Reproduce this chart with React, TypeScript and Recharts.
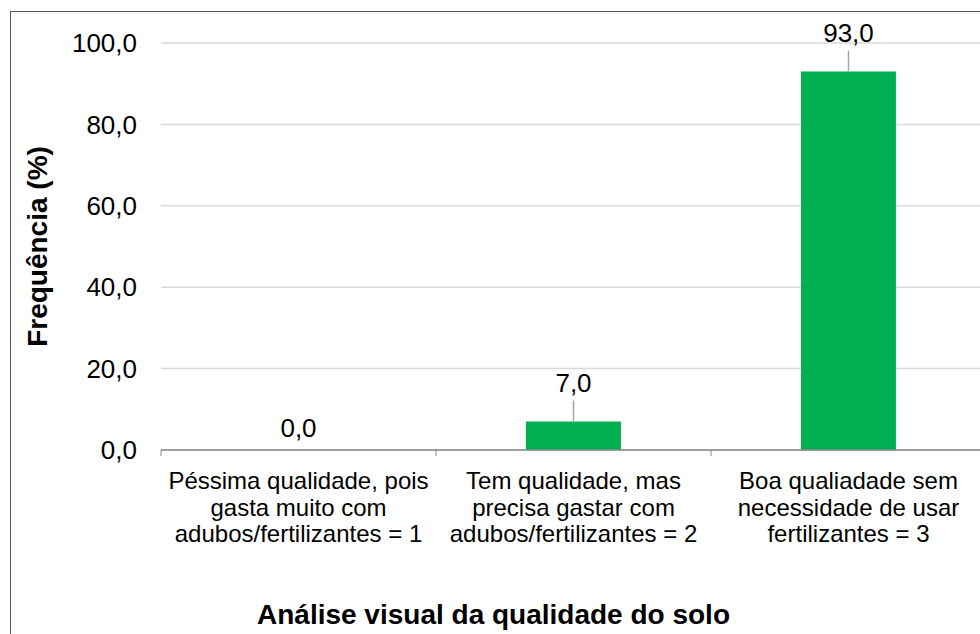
import { BarChart, Bar, XAxis, YAxis, CartesianGrid, ReferenceDot, Label } from "recharts";

const categories = [
  "Péssima qualidade, pois gasta muito com adubos/fertilizantes = 1",
  "Tem qualidade, mas precisa gastar com adubos/fertilizantes = 2",
  "Boa qualiadade sem necessidade de usar fertilizantes = 3",
];
const categoryLines = [
  ["Péssima qualidade, pois", "gasta muito com", "adubos/fertilizantes = 1"],
  ["Tem qualidade, mas", "precisa gastar com", "adubos/fertilizantes = 2"],
  ["Boa qualiadade sem", "necessidade de usar", "fertilizantes = 3"],
];
const frequencia = [0, 7, 93];
const yTicks = [0, 20, 40, 60, 80, 100];

const data = categories.map((c, i) => ({ categoria: c, valor: frequencia[i] }));

const FONT = '"Liberation Sans", Arial, sans-serif';
const W = 1000;
const H = 640;
const M = { top: 31, right: 25, left: 0, bottom: 0 };
const Y_W = 150;
const BAND = (W - M.left - M.right - Y_W) / categories.length;

const fmt = (v: number) => v.toFixed(1).replace(".", ",");

function CategoryTick(props: any) {
  const { x, y, index } = props;
  const lines = categoryLines[index] || [];
  const left = x - BAND / 2;
  return (
    <g>
      <line x1={left} y1={y} x2={left} y2={y + 6} stroke="#898989" strokeWidth={1} />
      <text x={x} y={y} textAnchor="middle" fontFamily={FONT} fontSize={24} fill="#000">
        {lines.map((l: string, i: number) => (
          <tspan key={i} x={x} y={y + 39 + i * 26.5}>
            {l}
          </tspan>
        ))}
      </text>
    </g>
  );
}

// rótulo de valor com linha guia, igual ao Excel
const valueLabel = (value: number) => (props: any) => {
  const { cx, cy } = props;
  if (!value) {
    return (
      <text x={cx} y={cy - 13} textAnchor="middle" fontFamily={FONT} fontSize={26} fill="#000">
        {fmt(value)}
      </text>
    );
  }
  return (
    <g>
      <line x1={cx} y1={cy - 21} x2={cx} y2={cy} stroke="#a6a6a6" strokeWidth={1.5} />
      <text x={cx} y={cy - 29.5} textAnchor="middle" fontFamily={FONT} fontSize={26} fill="#000">
        {fmt(value)}
      </text>
    </g>
  );
};

export default function App() {
  return (
    <div style={{ position: "fixed", left: 0, top: 0, width: 980, height: 634, overflow: "hidden", background: "#fff" }}>
      <div style={{ position: "absolute", left: 10, top: 11, width: W, height: H, border: "1px solid #595959" }}>
        <BarChart width={W} height={H} data={data} margin={M} barCategoryGap="32.7%">
          <CartesianGrid horizontal vertical={false} stroke="#d9d9d9" strokeWidth={1.5} />
          <XAxis
            dataKey="categoria"
            height={H - 438 - M.bottom}
            axisLine={{ stroke: "#898989", strokeWidth: 1.5 }}
            tickLine={false}
            tickSize={0}
            tickMargin={0}
            interval={0}
            tick={<CategoryTick />}
          >
            <Label
              content={() => (
                <text x={482.5} y={612} textAnchor="middle" fontFamily={FONT} fontSize={28} fontWeight="bold" fill="#000">
                  Análise visual da qualidade do solo
                </text>
              )}
            />
          </XAxis>
          <YAxis
            width={Y_W}
            domain={[0, 100]}
            ticks={yTicks}
            axisLine={false}
            tickLine={false}
            tickSize={6}
            tickMargin={18}
            tickFormatter={fmt}
            tick={{ fontFamily: FONT, fontSize: 26, fill: "#000" }}
          >
            <Label
              content={() => (
                <text
                  x={36}
                  y={234.5}
                  transform="rotate(-90, 36, 234.5)"
                  textAnchor="middle"
                  fontFamily={FONT}
                  fontSize={28}
                  fontWeight="bold"
                  fill="#000"
                >
                  Frequência (%)
                </text>
              )}
            />
          </YAxis>
          <Bar dataKey="valor" fill="#00B050" isAnimationActive={false} />
          {data.map((d) => (
            <ReferenceDot
              key={d.categoria}
              x={d.categoria}
              y={d.valor}
              r={0}
              shape={valueLabel(d.valor)}
            />
          ))}
        </BarChart>
      </div>
    </div>
  );
}
